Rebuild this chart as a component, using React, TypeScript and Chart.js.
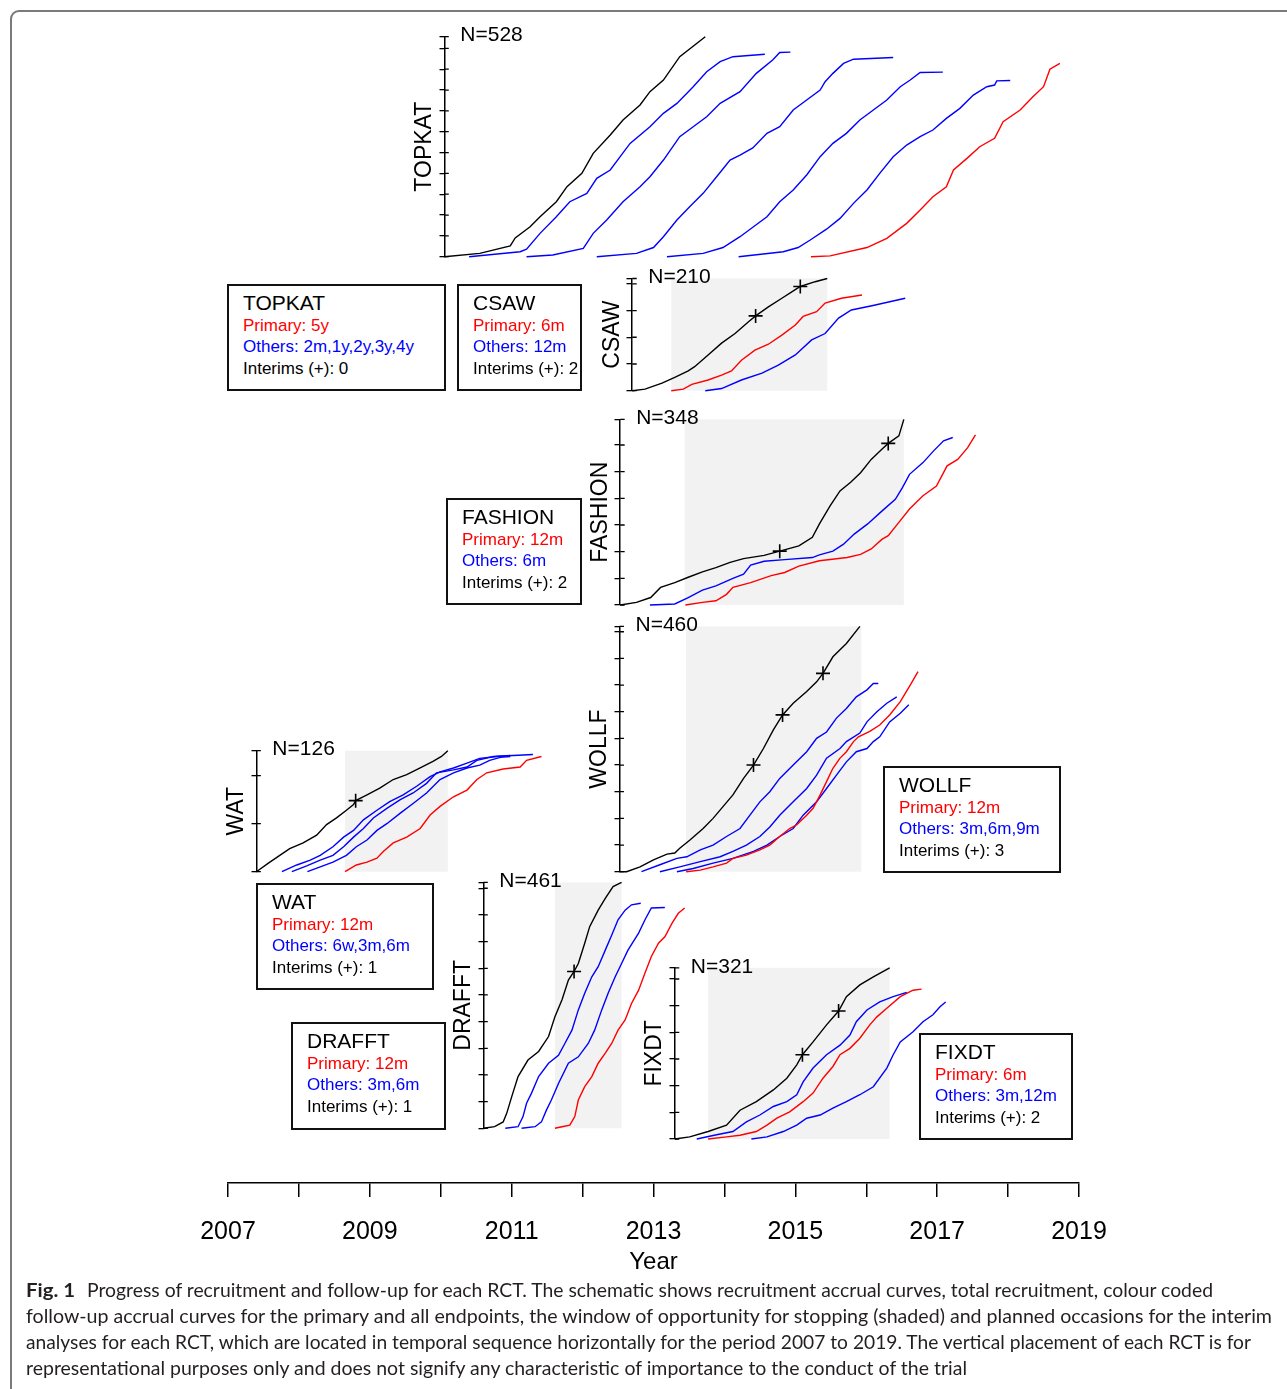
import React, { useEffect, useRef } from 'react';
import { Chart, registerables } from 'chart.js';

Chart.register(...registerables);

type Pt = [number, number];

const FONT = '"Liberation Sans", Arial, Helvetica, sans-serif';
const CAPTION_FONT = 'Lato, "Open Sans", sans-serif';
const BLACK = '#000000';
const BLUE = '#0000ff';
const RED = '#ff0000';
const SHADE = '#f2f2f2';

// ---------- shared year axis ----------
const YEAR_TICKS = [2007, 2008, 2009, 2010, 2011, 2012, 2013, 2014, 2015, 2016, 2017, 2018, 2019];
const YEAR_LABELS = ['2007', '', '2009', '', '2011', '', '2013', '', '2015', '', '2017', '', '2019'];
const N_TICK_STEP = 50;

// ---------- TOPKAT ----------
const TOPKAT_N = 528;
const TOPKAT_RECRUIT: Pt[] = [[2010.05,0],[2010.55,8],[2010.98,26],[2011.05,45],[2011.26,72],[2011.40,96],[2011.63,132],[2011.78,168],[2011.99,200],[2012.15,248],[2012.39,292],[2012.57,328],[2012.81,364],[2012.95,396],[2013.14,424],[2013.37,480],[2013.73,528]];
const TOPKAT_2M: Pt[] = [[2010.40,0],[2011.12,12],[2011.21,18],[2011.40,56],[2011.63,96],[2011.82,132],[2012.06,152],[2012.20,188],[2012.39,208],[2012.53,240],[2012.67,272],[2012.95,312],[2013.14,344],[2013.33,368],[2013.56,408],[2013.75,444],[2013.94,468],[2014.12,480],[2014.57,486]];
const TOPKAT_1Y: Pt[] = [[2011.21,0],[2011.58,4],[2012.01,20],[2012.15,56],[2012.34,88],[2012.57,132],[2012.81,168],[2012.95,192],[2013.14,232],[2013.37,288],[2013.56,312],[2013.75,336],[2013.94,368],[2014.22,396],[2014.45,440],[2014.68,472],[2014.78,490],[2014.93,491]];
const TOPKAT_2Y: Pt[] = [[2012.20,0],[2012.76,8],[2013.00,22],[2013.14,48],[2013.33,88],[2013.51,120],[2013.70,152],[2013.89,192],[2014.08,232],[2014.22,244],[2014.40,261],[2014.60,296],[2014.78,312],[2014.97,352],[2015.16,376],[2015.35,400],[2015.42,420],[2015.53,440],[2015.68,464],[2015.82,474],[2016.38,478]];
const TOPKAT_3Y: Pt[] = [[2013.19,0],[2013.70,8],[2013.98,22],[2014.22,48],[2014.41,72],[2014.60,96],[2014.78,132],[2014.97,160],[2015.16,196],[2015.35,240],[2015.53,272],[2015.72,296],[2015.91,328],[2016.10,352],[2016.29,376],[2016.48,408],[2016.62,424],[2016.76,442],[2017.08,443]];
const TOPKAT_4Y: Pt[] = [[2014.20,0],[2014.83,12],[2015.04,22],[2015.21,40],[2015.44,66],[2015.63,92],[2015.82,128],[2016.01,160],[2016.19,200],[2016.38,240],[2016.57,268],[2016.76,288],[2016.94,304],[2017.13,332],[2017.32,356],[2017.51,388],[2017.70,408],[2017.81,412],[2017.84,422],[2018.03,423]];
const TOPKAT_5Y: Pt[] = [[2015.22,0],[2015.49,2],[2016.01,22],[2016.29,44],[2016.57,80],[2016.76,112],[2016.94,144],[2017.13,168],[2017.23,208],[2017.42,236],[2017.60,264],[2017.81,284],[2017.93,324],[2018.17,352],[2018.35,384],[2018.50,408],[2018.59,450],[2018.73,464]];
const TOPKAT_INTERIMS: Pt[] = [];

// ---------- CSAW ----------
const CSAW_N = 210;
const CSAW_RECRUIT: Pt[] = [[2012.70,0],[2012.88,3],[2013.12,14],[2013.30,25],[2013.49,37],[2013.58,45],[2013.77,67],[2013.96,89],[2014.15,107],[2014.34,129],[2014.44,140],[2014.62,157],[2014.81,173],[2014.95,185],[2015.07,195],[2015.28,204],[2015.45,210]];
const CSAW_6M: Pt[] = [[2013.25,0],[2013.42,3],[2013.54,12],[2013.77,20],[2013.96,29],[2014.10,37],[2014.24,57],[2014.43,76],[2014.62,87],[2014.81,104],[2015.00,123],[2015.11,139],[2015.30,148],[2015.42,164],[2015.65,173],[2015.94,179]];
const CSAW_12M: Pt[] = [[2013.73,0],[2013.96,4],[2014.24,20],[2014.53,33],[2014.76,48],[2015.00,67],[2015.23,95],[2015.42,107],[2015.61,136],[2015.79,151],[2016.08,159],[2016.55,173]];
const CSAW_INTERIMS: Pt[] = [[2014.44,140],[2015.07,195]];
const CSAW_WINDOW: [number, number] = [2013.25, 2015.45];

// ---------- FASHION ----------
const FASHION_N = 348;
const FASHION_RECRUIT: Pt[] = [[2012.53,0],[2012.76,5],[2012.96,14],[2013.10,33],[2013.30,42],[2013.49,52],[2013.69,62],[2013.88,70],[2014.08,80],[2014.27,87],[2014.56,93],[2014.78,101],[2015.05,111],[2015.24,127],[2015.34,152],[2015.49,186],[2015.63,214],[2015.78,230],[2015.92,248],[2016.07,273],[2016.22,292],[2016.31,303],[2016.46,317],[2016.53,348]];
const FASHION_6M: Pt[] = [[2012.95,0],[2013.30,2],[2013.49,14],[2013.69,28],[2013.88,36],[2014.12,50],[2014.27,58],[2014.37,75],[2014.56,82],[2014.85,85],[2015.24,89],[2015.34,94],[2015.53,101],[2015.68,114],[2015.83,133],[2016.02,152],[2016.22,176],[2016.41,198],[2016.51,220],[2016.61,245],[2016.80,267],[2016.95,289],[2017.09,308],[2017.22,314]];
const FASHION_12M: Pt[] = [[2013.45,0],[2013.69,5],[2013.88,8],[2014.03,20],[2014.12,33],[2014.37,42],[2014.66,55],[2014.85,61],[2015.05,73],[2015.34,83],[2015.73,89],[2015.92,95],[2016.07,105],[2016.22,123],[2016.31,130],[2016.46,155],[2016.61,180],[2016.80,205],[2016.99,223],[2017.14,261],[2017.29,273],[2017.43,295],[2017.54,319]];
const FASHION_INTERIMS: Pt[] = [[2014.78,101],[2016.31,303]];
const FASHION_WINDOW: [number, number] = [2013.44, 2016.53];

// ---------- WOLLF ----------
const WOLLF_N = 460;
const WOLLF_RECRUIT: Pt[] = [[2012.52,0],[2012.62,0],[2012.81,9],[2013.00,22],[2013.19,33],[2013.30,35],[2013.37,44],[2013.51,59],[2013.70,81],[2013.84,100],[2013.98,122],[2014.12,144],[2014.27,175],[2014.41,200],[2014.55,231],[2014.69,266],[2014.82,294],[2014.97,316],[2015.16,338],[2015.30,356],[2015.39,372],[2015.53,403],[2015.72,428],[2015.91,460]];
const WOLLF_3M: Pt[] = [[2012.83,0],[2013.09,13],[2013.33,25],[2013.47,28],[2013.66,41],[2013.84,50],[2014.03,66],[2014.22,81],[2014.36,106],[2014.50,131],[2014.64,150],[2014.78,175],[2014.97,200],[2015.16,225],[2015.30,250],[2015.44,262],[2015.58,288],[2015.72,306],[2015.86,328],[2016.01,341],[2016.10,353],[2016.17,353]];
const WOLLF_6M: Pt[] = [[2013.09,0],[2013.37,9],[2013.66,19],[2013.94,28],[2014.12,38],[2014.31,50],[2014.50,66],[2014.64,84],[2014.78,106],[2014.97,131],[2015.16,156],[2015.30,181],[2015.44,213],[2015.63,231],[2015.72,244],[2015.91,260],[2016.01,281],[2016.15,300],[2016.29,316],[2016.43,328]];
const WOLLF_9M: Pt[] = [[2013.33,0],[2013.56,6],[2013.84,16],[2014.12,25],[2014.41,38],[2014.60,50],[2014.78,66],[2014.97,81],[2015.11,106],[2015.30,131],[2015.44,156],[2015.58,181],[2015.72,206],[2015.86,225],[2016.01,231],[2016.10,244],[2016.19,253],[2016.33,281],[2016.48,297],[2016.60,313]];
const WOLLF_12M: Pt[] = [[2013.46,0],[2013.66,3],[2013.84,9],[2014.03,16],[2014.12,25],[2014.31,31],[2014.50,41],[2014.64,50],[2014.78,66],[2014.92,81],[2015.02,88],[2015.16,106],[2015.25,119],[2015.35,144],[2015.44,169],[2015.53,194],[2015.63,213],[2015.72,225],[2015.82,244],[2015.89,253],[2016.05,263],[2016.19,275],[2016.33,294],[2016.48,319],[2016.62,350],[2016.73,375]];
const WOLLF_INTERIMS: Pt[] = [[2014.41,200],[2014.82,294],[2015.39,372]];
const WOLLF_WINDOW: [number, number] = [2013.46, 2015.93];

// ---------- WAT ----------
const WAT_N = 126;
const WAT_RECRUIT: Pt[] = [[2007.40,0],[2007.57,9],[2007.73,17],[2007.87,24],[2008.06,30],[2008.25,38],[2008.39,49],[2008.53,56],[2008.67,64],[2008.77,70],[2008.80,74],[2008.96,80],[2009.14,87],[2009.33,96],[2009.52,101],[2009.71,108],[2009.89,115],[2010.01,120],[2010.10,126]];
const WAT_6W: Pt[] = [[2007.76,0],[2007.97,7],[2008.16,12],[2008.30,17],[2008.48,26],[2008.63,36],[2008.77,43],[2008.91,54],[2009.10,64],[2009.28,73],[2009.47,80],[2009.66,89],[2009.85,99],[2009.99,104],[2010.18,108],[2010.37,113],[2010.55,118],[2010.79,120],[2010.98,121]];
const WAT_3M: Pt[] = [[2007.90,0],[2008.11,6],[2008.30,12],[2008.48,17],[2008.63,26],[2008.77,36],[2008.91,45],[2009.05,56],[2009.24,66],[2009.43,75],[2009.61,82],[2009.80,92],[2009.94,103],[2010.18,106],[2010.37,109],[2010.51,116],[2010.74,120],[2011.30,122]];
const WAT_6M: Pt[] = [[2008.12,0],[2008.30,5],[2008.48,10],[2008.67,17],[2008.81,26],[2008.96,33],[2009.10,43],[2009.24,50],[2009.43,61],[2009.61,71],[2009.80,82],[2009.99,96],[2010.18,103],[2010.37,108],[2010.55,111],[2010.69,116],[2010.84,119],[2010.98,120]];
const WAT_12M: Pt[] = [[2008.65,0],[2008.81,7],[2008.96,10],[2009.10,14],[2009.19,21],[2009.33,30],[2009.52,36],[2009.71,45],[2009.85,59],[2009.99,68],[2010.18,78],[2010.37,85],[2010.51,96],[2010.65,103],[2010.88,107],[2011.12,109],[2011.21,116],[2011.42,120]];
const WAT_INTERIMS: Pt[] = [[2008.80,74]];
const WAT_WINDOW: [number, number] = [2008.65, 2010.10];

// ---------- DRAFFT ----------
const DRAFFT_N = 461;
const DRAFFT_RECRUIT: Pt[] = [[2010.60,0],[2010.76,3],[2010.88,12],[2010.93,28],[2011.00,59],[2011.09,97],[2011.23,128],[2011.38,144],[2011.52,172],[2011.61,209],[2011.71,241],[2011.80,278],[2011.88,294],[2011.94,309],[2012.03,347],[2012.10,378],[2012.22,409],[2012.32,431],[2012.43,453],[2012.55,461]];
const DRAFFT_3M: Pt[] = [[2010.91,0],[2011.09,3],[2011.16,22],[2011.21,47],[2011.28,66],[2011.38,97],[2011.52,122],[2011.66,137],[2011.75,159],[2011.85,184],[2011.94,222],[2012.03,253],[2012.13,284],[2012.22,303],[2012.32,334],[2012.41,362],[2012.50,391],[2012.60,409],[2012.69,419],[2012.82,422]];
const DRAFFT_6M: Pt[] = [[2011.14,0],[2011.33,3],[2011.42,12],[2011.49,34],[2011.56,53],[2011.66,84],[2011.80,122],[2011.94,134],[2012.08,159],[2012.17,184],[2012.27,222],[2012.36,253],[2012.46,284],[2012.55,309],[2012.64,334],[2012.79,366],[2012.88,391],[2012.97,413],[2013.16,414]];
const DRAFFT_12M: Pt[] = [[2011.61,0],[2011.71,3],[2011.82,6],[2011.89,22],[2011.94,53],[2012.03,78],[2012.13,97],[2012.22,122],[2012.32,141],[2012.41,159],[2012.50,184],[2012.60,203],[2012.69,234],[2012.79,259],[2012.88,291],[2012.97,322],[2013.07,347],[2013.16,359],[2013.26,384],[2013.35,403],[2013.44,413]];
const DRAFFT_INTERIMS: Pt[] = [[2011.88,294]];
const DRAFFT_WINDOW: [number, number] = [2011.61, 2012.55];

// ---------- FIXDT ----------
const FIXDT_N = 321;
const FIXDT_RECRUIT: Pt[] = [[2013.30,0],[2013.51,4],[2013.77,14],[2014.03,26],[2014.22,54],[2014.45,70],[2014.69,92],[2014.88,114],[2015.02,139],[2015.10,158],[2015.25,182],[2015.44,214],[2015.61,240],[2015.72,267],[2015.91,289],[2016.10,304],[2016.33,321]];
const FIXDT_3M: Pt[] = [[2013.61,0],[2013.89,8],[2014.12,14],[2014.31,32],[2014.50,45],[2014.69,61],[2014.88,70],[2015.02,83],[2015.11,107],[2015.25,133],[2015.44,158],[2015.63,176],[2015.77,195],[2015.86,220],[2016.01,242],[2016.19,257],[2016.38,267],[2016.57,275]];
const FIXDT_6M: Pt[] = [[2013.77,0],[2014.03,4],[2014.22,7],[2014.45,14],[2014.60,26],[2014.74,39],[2014.92,51],[2015.11,70],[2015.25,86],[2015.39,114],[2015.53,136],[2015.63,158],[2015.77,170],[2015.91,189],[2016.05,214],[2016.15,229],[2016.29,245],[2016.48,267],[2016.66,279],[2016.78,281]];
const FIXDT_12M: Pt[] = [[2014.38,0],[2014.60,4],[2014.83,14],[2015.02,26],[2015.16,39],[2015.35,45],[2015.53,58],[2015.72,70],[2015.91,83],[2016.10,98],[2016.29,133],[2016.38,158],[2016.48,182],[2016.66,201],[2016.80,220],[2016.94,233],[2017.04,248],[2017.12,257]];
const FIXDT_INTERIMS: Pt[] = [[2015.10,158],[2015.61,240]];
const FIXDT_WINDOW: [number, number] = [2013.77, 2016.33];

// ---------- layout (pixels) ----------
const X2007 = 228;
const X2019 = 1079;
const yearAt = (px: number) => 2007 + ((px - X2007) * 12) / (X2019 - X2007);

interface Curve { data: Pt[]; color: string }
interface PanelDef {
  name: string;
  n: number;
  window: [number, number] | null;
  curves: Curve[];
  interims: Pt[];
  geo: { left: number; right: number; top: number; bottom: number };
}

const PANELS: PanelDef[] = [
  {
    name: 'TOPKAT', n: TOPKAT_N, window: null, interims: TOPKAT_INTERIMS,
    curves: [
      { data: TOPKAT_RECRUIT, color: BLACK },
      { data: TOPKAT_2M, color: BLUE },
      { data: TOPKAT_1Y, color: BLUE },
      { data: TOPKAT_2Y, color: BLUE },
      { data: TOPKAT_3Y, color: BLUE },
      { data: TOPKAT_4Y, color: BLUE },
      { data: TOPKAT_5Y, color: RED },
    ],
    geo: { left: 399, right: 1075, top: 36.7, bottom: 256.7 },
  },
  {
    name: 'CSAW', n: CSAW_N, window: CSAW_WINDOW, interims: CSAW_INTERIMS,
    curves: [
      { data: CSAW_RECRUIT, color: BLACK },
      { data: CSAW_6M, color: RED },
      { data: CSAW_12M, color: BLUE },
    ],
    geo: { left: 587, right: 915, top: 278.5, bottom: 390.7 },
  },
  {
    name: 'FASHION', n: FASHION_N, window: FASHION_WINDOW, interims: FASHION_INTERIMS,
    curves: [
      { data: FASHION_RECRUIT, color: BLACK },
      { data: FASHION_6M, color: BLUE },
      { data: FASHION_12M, color: RED },
    ],
    geo: { left: 575, right: 990, top: 419.4, bottom: 605 },
  },
  {
    name: 'WOLLF', n: WOLLF_N, window: WOLLF_WINDOW, interims: WOLLF_INTERIMS,
    curves: [
      { data: WOLLF_RECRUIT, color: BLACK },
      { data: WOLLF_12M, color: RED },
      { data: WOLLF_3M, color: BLUE },
      { data: WOLLF_6M, color: BLUE },
      { data: WOLLF_9M, color: BLUE },
    ],
    geo: { left: 574, right: 930, top: 626.4, bottom: 871.7 },
  },
  {
    name: 'WAT', n: WAT_N, window: WAT_WINDOW, interims: WAT_INTERIMS,
    curves: [
      { data: WAT_RECRUIT, color: BLACK },
      { data: WAT_6W, color: BLUE },
      { data: WAT_3M, color: BLUE },
      { data: WAT_6M, color: BLUE },
      { data: WAT_12M, color: RED },
    ],
    geo: { left: 211, right: 555, top: 750.7, bottom: 871.7 },
  },
  {
    name: 'DRAFFT', n: DRAFFT_N, window: DRAFFT_WINDOW, interims: DRAFFT_INTERIMS,
    curves: [
      { data: DRAFFT_RECRUIT, color: BLACK },
      { data: DRAFFT_3M, color: BLUE },
      { data: DRAFFT_6M, color: BLUE },
      { data: DRAFFT_12M, color: RED },
    ],
    geo: { left: 438, right: 700, top: 882.4, bottom: 1128.3 },
  },
  {
    name: 'FIXDT', n: FIXDT_N, window: FIXDT_WINDOW, interims: FIXDT_INTERIMS,
    curves: [
      { data: FIXDT_RECRUIT, color: BLACK },
      { data: FIXDT_3M, color: BLUE },
      { data: FIXDT_6M, color: RED },
      { data: FIXDT_12M, color: BLUE },
    ],
    geo: { left: 629, right: 960, top: 967.8, bottom: 1139 },
  },
];

interface BoxDef {
  title: string; primary: string; others: string; interims: string;
  left: number; top: number; width: number; height: number;
}

const BOXES: BoxDef[] = [
  { title: 'TOPKAT', primary: 'Primary: 5y', others: 'Others: 2m,1y,2y,3y,4y', interims: 'Interims (+): 0', left: 227, top: 284, width: 219, height: 107 },
  { title: 'CSAW', primary: 'Primary: 6m', others: 'Others: 12m', interims: 'Interims (+): 2', left: 457, top: 284, width: 125, height: 107 },
  { title: 'FASHION', primary: 'Primary: 12m', others: 'Others: 6m', interims: 'Interims (+): 2', left: 446, top: 498, width: 136, height: 107 },
  { title: 'WOLLF', primary: 'Primary: 12m', others: 'Others: 3m,6m,9m', interims: 'Interims (+): 3', left: 883, top: 766, width: 178, height: 107 },
  { title: 'WAT', primary: 'Primary: 12m', others: 'Others: 6w,3m,6m', interims: 'Interims (+): 1', left: 256, top: 883, width: 178, height: 107 },
  { title: 'DRAFFT', primary: 'Primary: 12m', others: 'Others: 3m,6m', interims: 'Interims (+): 1', left: 291, top: 1022, width: 155, height: 108 },
  { title: 'FIXDT', primary: 'Primary: 6m', others: 'Others: 3m,12m', interims: 'Interims (+): 2', left: 919, top: 1033, width: 154, height: 107 },
];

const CAPTION_LABEL = 'Fig. 1';
const CAPTION_LINES = [
  'Progress of recruitment and follow-up for each RCT. The schematic shows recruitment accrual curves, total recruitment, colour coded',
  'follow-up accrual curves for the primary and all endpoints, the window of opportunity for stopping (shaded) and planned occasions for the interim',
  'analyses for each RCT, which are located in temporal sequence horizontally for the period 2007 to 2019. The vertical placement of each RCT is for',
  'representational purposes only and does not signify any characteristic of importance to the conduct of the trial',
];

function nTicks(n: number): number[] {
  const out: number[] = [];
  for (let v = 0; v < n; v += N_TICK_STEP) out.push(v);
  out.push(n);
  return out;
}

function PanelChart({ p }: { p: PanelDef }) {
  const ref = useRef<HTMLCanvasElement | null>(null);
  const canvasTop = Math.floor(p.geo.top - 26);
  const canvasBottom = Math.ceil(p.geo.bottom + 12);
  const width = p.geo.right - p.geo.left;
  const height = canvasBottom - canvasTop;
  const start = p.curves[0].data[0][0];

  useEffect(() => {
    const canvas = ref.current;
    if (!canvas) return;
    const decor = {
      id: 'decor',
      beforeDraw(chart: any) {
        if (!p.window) return;
        const { ctx } = chart;
        const xs = chart.scales.x;
        const ys = chart.scales.y;
        const x0 = xs.getPixelForValue(p.window[0]);
        const x1 = xs.getPixelForValue(p.window[1]);
        const y0 = ys.getPixelForValue(p.n);
        const y1 = ys.getPixelForValue(0);
        ctx.save();
        ctx.fillStyle = SHADE;
        ctx.fillRect(x0, y0, x1 - x0, y1 - y0);
        ctx.restore();
      },
      afterDraw(chart: any) {
        const { ctx } = chart;
        const xs = chart.scales.x;
        const ys = chart.scales.y;
        const ax = xs.getPixelForValue(start);
        ctx.save();
        ctx.strokeStyle = BLACK;
        ctx.lineWidth = 1.3;
        ctx.beginPath();
        for (const t of ys.ticks) {
          const ty = ys.getPixelForValue(t.value);
          ctx.moveTo(ax, ty);
          ctx.lineTo(ax + 4.5, ty);
        }
        ctx.stroke();
        ctx.fillStyle = BLACK;
        ctx.font = `21px ${FONT}`;
        ctx.textAlign = 'left';
        ctx.textBaseline = 'middle';
        ctx.fillText(`N=${p.n}`, ax + 16, ys.getPixelForValue(p.n) - 1);
        ctx.translate(ax - 20, (ys.top + ys.bottom) / 2);
        ctx.rotate(-Math.PI / 2);
        ctx.textAlign = 'center';
        ctx.font = `23px ${FONT}`;
        ctx.fillText(p.name, 0, 0);
        ctx.restore();
      },
    };

    const datasets: any[] = p.curves.map((c) => ({
      data: c.data.map(([x, y]) => ({ x, y })),
      borderColor: c.color,
      borderWidth: 1.4,
      pointRadius: 0,
      tension: 0,
      fill: false,
      clip: false,
    }));
    if (p.interims.length) {
      datasets.unshift({
        data: p.interims.map(([x, y]) => ({ x, y })),
        showLine: false,
        pointStyle: 'cross',
        pointRadius: 7,
        borderColor: BLACK,
        borderWidth: 1.6,
        clip: false,
      });
    }

    const chart = new Chart(canvas, {
      type: 'line',
      data: { datasets },
      options: {
        animation: false,
        responsive: false,
        maintainAspectRatio: false,
        events: [],
        layout: {
          autoPadding: false,
          padding: { left: 0, right: 0, top: p.geo.top - canvasTop, bottom: canvasBottom - p.geo.bottom },
        },
        plugins: { legend: { display: false }, tooltip: { enabled: false } },
        scales: {
          x: { type: 'linear', min: yearAt(p.geo.left), max: yearAt(p.geo.right), display: false },
          y: {
            type: 'linear',
            min: 0,
            max: p.n,
            position: { x: start },
            afterBuildTicks: (scale: any) => {
              scale.ticks = nTicks(p.n).map((v) => ({ value: v }));
            },
            ticks: { display: false },
            grid: { drawOnChartArea: false, drawTicks: true, tickLength: 4.5, color: BLACK, lineWidth: 1.3 },
            border: { display: true, color: BLACK, width: 1.5 },
          },
        },
      } as any,
      plugins: [decor],
    });
    return () => chart.destroy();
  }, [p]);

  return (
    <canvas
      ref={ref}
      width={width}
      height={height}
      style={{ position: 'absolute', left: p.geo.left, top: canvasTop, width, height }}
    />
  );
}

const AXIS_CANVAS = { left: 150, top: 1163, width: 1010, height: 118 };
const AXIS_LINE_Y = 1183;

function YearAxis() {
  const ref = useRef<HTMLCanvasElement | null>(null);
  useEffect(() => {
    const canvas = ref.current;
    if (!canvas) return;
    const axisHeight = AXIS_CANVAS.top + AXIS_CANVAS.height - AXIS_LINE_Y;
    const chart = new Chart(canvas, {
      type: 'line',
      data: { datasets: [] },
      options: {
        animation: false,
        responsive: false,
        maintainAspectRatio: false,
        events: [],
        layout: {
          autoPadding: false,
          padding: { left: X2007 - AXIS_CANVAS.left, right: AXIS_CANVAS.left + AXIS_CANVAS.width - X2019, top: 0, bottom: 0 },
        },
        plugins: { legend: { display: false }, tooltip: { enabled: false } },
        scales: {
          x: {
            type: 'linear',
            min: YEAR_TICKS[0],
            max: YEAR_TICKS[YEAR_TICKS.length - 1],
            position: 'bottom',
            afterBuildTicks: (scale: any) => {
              scale.ticks = YEAR_TICKS.map((v) => ({ value: v }));
            },
            afterFit: (scale: any) => {
              scale.height = axisHeight;
            },
            ticks: {
              autoSkip: false,
              maxRotation: 0,
              padding: 20,
              color: BLACK,
              font: { family: FONT, size: 25 },
              callback: (_v: any, i: number) => YEAR_LABELS[i],
            },
            grid: { drawOnChartArea: false, tickLength: 14, color: BLACK, lineWidth: 1.5 },
            border: { color: BLACK, width: 1.5 },
            title: {
              display: true,
              text: 'Year',
              color: BLACK,
              font: { family: FONT, size: 24 },
              padding: { top: 0, bottom: 4 },
            },
          },
          y: { display: false },
        },
      } as any,
    });
    return () => chart.destroy();
  }, []);
  return (
    <canvas
      ref={ref}
      width={AXIS_CANVAS.width}
      height={AXIS_CANVAS.height}
      style={{ position: 'absolute', left: AXIS_CANVAS.left, top: AXIS_CANVAS.top, width: AXIS_CANVAS.width, height: AXIS_CANVAS.height }}
    />
  );
}

function InfoBox({ b }: { b: BoxDef }) {
  const line = (top: number, size: number, lh: number, color: string, text: string) => (
    <div
      style={{
        position: 'absolute', left: 16, top, fontSize: size, lineHeight: `${lh}px`,
        color, whiteSpace: 'nowrap', fontFamily: FONT,
      }}
    >
      {text}
    </div>
  );
  return (
    <div style={{ position: 'absolute', left: b.left, top: b.top, width: b.width, height: b.height }}>
      <div style={{ position: 'absolute', inset: 0, border: '2px solid #111', boxSizing: 'border-box' }} />
      {line(7, 21, 24, BLACK, b.title)}
      {line(30.5, 17, 21.5, RED, b.primary)}
      {line(52, 17, 21.5, BLUE, b.others)}
      {line(73.5, 17, 21.5, BLACK, b.interims)}
    </div>
  );
}

function Caption() {
  const widths = [1126, 1246, 1225, 941];
  const xs = [87, 26, 26, 26];
  const baselines = [27, 53, 79, 105];
  return (
    <svg width={1287} height={119} style={{ position: 'absolute', left: 0, top: 1270 }}>
      <text x={26} y={baselines[0]} fontFamily={CAPTION_FONT} fontWeight={700} fontSize={19}
        fill="#231f20" textLength={49} lengthAdjust="spacingAndGlyphs">{CAPTION_LABEL}</text>
      {CAPTION_LINES.map((t, i) => (
        <text key={i} x={xs[i]} y={baselines[i]} fontFamily={CAPTION_FONT} fontSize={19}
          fill="#231f20" textLength={widths[i]} lengthAdjust="spacingAndGlyphs">{t}</text>
      ))}
    </svg>
  );
}

export default function App() {
  return (
    <div style={{ position: 'absolute', left: 0, top: 0, width: 1287, height: 1389, overflow: 'hidden', background: '#ffffff' }}>
      <div
        style={{
          position: 'absolute', left: 10, top: 10, right: -10, bottom: -10,
          borderTop: '2px solid #7a7a7a', borderLeft: '2px solid #7a7a7a', borderTopLeftRadius: 9,
        }}
      />
      {PANELS.map((p) => (
        <PanelChart key={p.name} p={p} />
      ))}
      <YearAxis />
      {BOXES.map((b) => (
        <InfoBox key={b.title} b={b} />
      ))}
      <Caption />
    </div>
  );
}
